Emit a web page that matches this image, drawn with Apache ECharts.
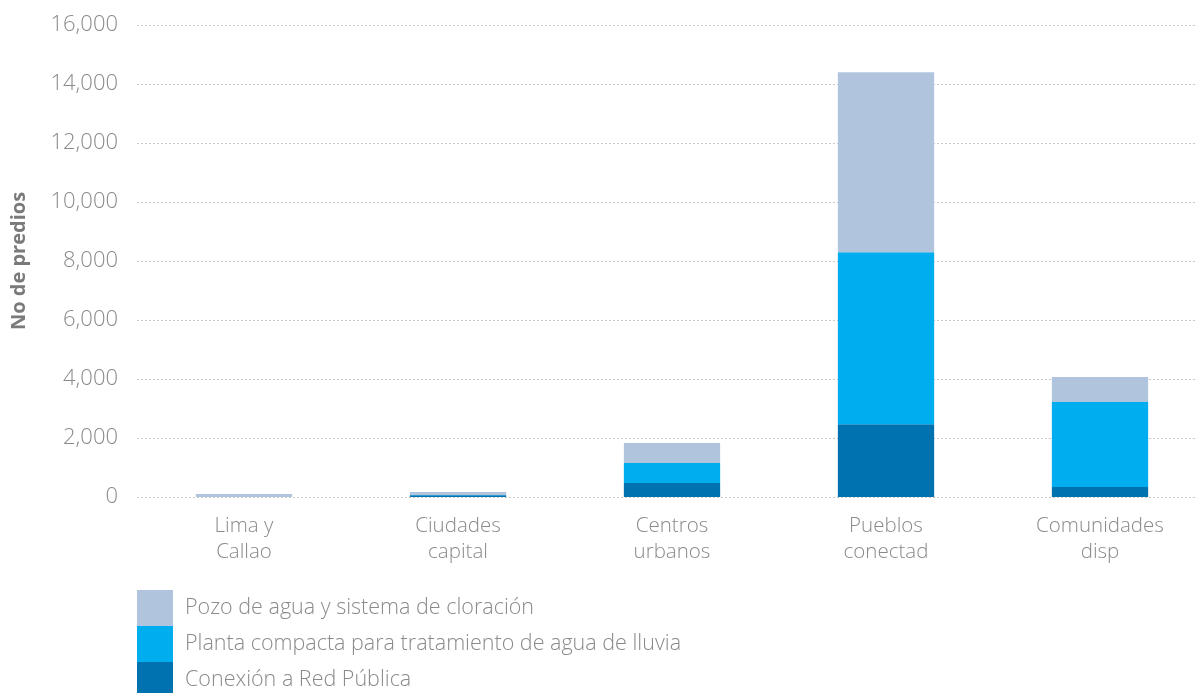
<!DOCTYPE html>
<html>
<head>
<meta charset="utf-8">
<script src="https://cdn.jsdelivr.net/npm/echarts@6/dist/echarts.min.js"></script>
<style>
  html, body { margin: 0; padding: 0; background: #fff; }
  #chart { width: 1197px; height: 693px; }
</style>
</head>
<body>
<div id="chart"></div>
<script>
// Categorías de zona y número de predios por tipo de solución
const categories = ['Lima y\nCallao', 'Ciudades\ncapital', 'Centros\nurbanos', 'Pueblos\nconectad', 'Comunidades\ndisp'];
const conexionRed = [0, 60, 475, 2470, 340];
const plantaCompacta = [0, 10, 675, 5830, 2880];
const pozoAgua = [100, 100, 680, 6100, 850];
const seriesNames = ['Pozo de agua y sistema de cloración', 'Planta compacta para tratamiento de agua de lluvia', 'Conexión a Red Pública'];
const seriesColors = ['#b0c4de', '#00adee', '#0072b0'];
const yTicks = { min: 0, max: 16000, interval: 2000 };

const FONT = 'Open Sans';
const GREY = '#8a8a8a';

const chart = echarts.init(document.getElementById('chart'), null, { renderer: 'canvas' });

const stackData = [conexionRed, plantaCompacta, pozoAgua];
const stackNames = [seriesNames[2], seriesNames[1], seriesNames[0]];
const stackColors = [seriesColors[2], seriesColors[1], seriesColors[0]];

chart.setOption({
  animation: false,
  textStyle: { fontFamily: FONT },
  // plot area runs past the right edge of the canvas
  grid: { left: 137, width: 1070, top: 25, height: 472, containLabel: false, outerBoundsMode: 'none' },
  legend: {
    data: seriesNames,
    orient: 'vertical',
    left: 137,
    top: 590,
    width: 800,
    height: 200,
    padding: 0,
    itemWidth: 36,
    itemHeight: 36,
    itemGap: 0,
    icon: 'rect',
    textStyle: { fontFamily: FONT, fontSize: 21.5, color: GREY, fontWeight: 300, padding: [0, 0, 0, 7] }
  },
  xAxis: {
    type: 'category',
    data: categories,
    axisLine: { show: false },
    axisTick: { show: false },
    axisLabel: { fontFamily: FONT, fontSize: 20.5, color: GREY, fontWeight: 300, lineHeight: 26, margin: 16 }
  },
  yAxis: {
    type: 'value',
    min: yTicks.min,
    max: yTicks.max,
    interval: yTicks.interval,
    name: 'No de predios',
    nameLocation: 'middle',
    nameGap: 108,
    nameTextStyle: { fontFamily: FONT, fontSize: 20, fontWeight: 'bold', color: '#7a7a7a' },
    axisLine: { show: false },
    axisTick: { show: false },
    axisLabel: {
      fontFamily: FONT, fontSize: 22, color: GREY, fontWeight: 300, margin: 19,
      formatter: v => v.toLocaleString('en-US')
    },
    splitLine: { lineStyle: { color: '#c8c8c8', type: [2, 2], width: 1 } }
  },
  series: stackData.map((d, i) => ({
    name: stackNames[i],
    type: 'bar',
    stack: 'total',
    data: d,
    barWidth: '45%',
    itemStyle: { color: stackColors[i] }
  }))
});
</script>
</body>
</html>
